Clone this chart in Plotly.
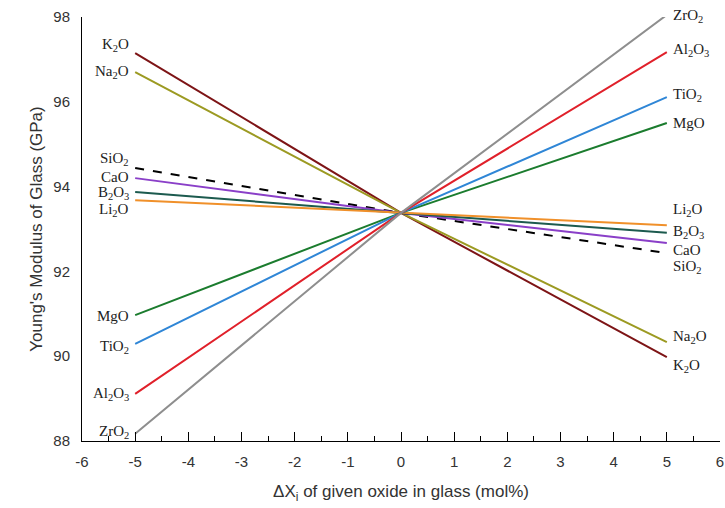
import plotly.graph_objects as go

# ---- data ----
x_points = [-5, 0, 5]
oxides = ["K2O", "Na2O", "SiO2", "CaO", "B2O3", "Li2O", "MgO", "TiO2", "Al2O3", "ZrO2"]
labels_html = {
    "K2O": "K<sub>2</sub>O", "Na2O": "Na<sub>2</sub>O", "SiO2": "SiO<sub>2</sub>",
    "CaO": "CaO", "B2O3": "B<sub>2</sub>O<sub>3</sub>", "Li2O": "Li<sub>2</sub>O",
    "MgO": "MgO", "TiO2": "TiO<sub>2</sub>", "Al2O3": "Al<sub>2</sub>O<sub>3</sub>",
    "ZrO2": "ZrO<sub>2</sub>",
}
K2O = [97.15, 93.38, 89.98]
Na2O = [96.70, 93.38, 90.33]
SiO2 = [94.44, 93.38, 92.43]
CaO = [94.20, 93.38, 92.67]
B2O3 = [93.87, 93.38, 92.91]
Li2O = [93.68, 93.38, 93.09]
MgO = [90.97, 93.38, 95.50]
TiO2 = [90.29, 93.38, 96.11]
Al2O3 = [89.11, 93.38, 97.17]
ZrO2 = [88.17, 93.38, 98.05]
series = {"K2O": K2O, "Na2O": Na2O, "SiO2": SiO2, "CaO": CaO, "B2O3": B2O3,
          "Li2O": Li2O, "MgO": MgO, "TiO2": TiO2, "Al2O3": Al2O3, "ZrO2": ZrO2}

x_ticks = list(range(-6, 7))
x_tick_text = [str(v) for v in x_ticks]
y_ticks = [88, 90, 92, 94, 96, 98]

# ---- styles ----
colors = {"K2O": "#7d1416", "Na2O": "#9c9a22", "SiO2": "#000000", "CaO": "#8a3fc8",
          "B2O3": "#1c5a4e", "Li2O": "#f0902a", "MgO": "#1b7c2e", "TiO2": "#2f86d6",
          "Al2O3": "#e0202a", "ZrO2": "#8e8e8e"}
dashes = {k: "solid" for k in oxides}
dashes["SiO2"] = "dash"

Y0, Y1 = 88, 98
# label placement (y in data units, converted to paper fractions)
left_label_y = {"K2O": 97.34, "Na2O": 96.70, "SiO2": 94.65, "CaO": 94.22, "B2O3": 93.86,
                "Li2O": 93.45, "MgO": 90.95, "TiO2": 90.22, "Al2O3": 89.11, "ZrO2": 88.21}
right_label_y = {"ZrO2": 98.02, "Al2O3": 97.22, "TiO2": 96.16, "MgO": 95.50, "Li2O": 93.45,
                 "B2O3": 92.93, "CaO": 92.50, "SiO2": 92.10, "Na2O": 90.45, "K2O": 89.77}

fig = go.Figure()
for k in oxides:
    fig.add_trace(go.Scatter(x=x_points, y=series[k], mode="lines", name=k,
                             line=dict(color=colors[k], width=2, dash=dashes[k]),
                             showlegend=False))

serif = dict(family="Liberation Serif", size=15, color="#222222")
for k in oxides:
    fig.add_annotation(x=-5.08, xref="x", y=(left_label_y[k] - Y0) / (Y1 - Y0), yref="paper",
                       text=labels_html[k], showarrow=False,
                       xanchor="right", yanchor="middle", font=serif)
    fig.add_annotation(x=5.07, xref="x", y=(right_label_y[k] - Y0) / (Y1 - Y0), yref="paper",
                       text=labels_html[k], showarrow=False,
                       xanchor="left", yanchor="middle", font=serif)

fig.update_layout(
    width=725, height=508,
    margin=dict(l=82, r=5, t=17, b=67),
    paper_bgcolor="white", plot_bgcolor="white",
    font=dict(family="Liberation Sans", size=15, color="#333333"),
    xaxis=dict(range=[-6, 6], tickvals=x_ticks, ticktext=x_tick_text, ticks="inside",
               ticklen=9, tickwidth=1, automargin=False, ticklabeloverflow="allow",
               ticklabelstandoff=7,
               tickcolor="black", showline=True, linecolor="black", linewidth=1,
               showgrid=False, zeroline=False,
               minor=dict(dtick=0.5, ticks="inside", ticklen=5, tickcolor="black", tickwidth=1),
               tickfont=dict(family="Liberation Sans", size=15, color="#333333"),
               title=dict(text="ΔX<sub>i</sub> of given oxide in glass (mol%)",
                          font=dict(family="Liberation Sans", size=17, color="#333333"),
                          standoff=16)),
    yaxis=dict(range=[Y0, Y1], tickvals=y_ticks, ticks="", showline=True, linecolor="black",
               linewidth=1, showgrid=False, zeroline=False, automargin=False,
               ticklabelstandoff=8,
               tickfont=dict(family="Liberation Sans", size=15, color="#333333"),
               title=dict(text="Young's Modulus of Glass (GPa)",
                          font=dict(family="Liberation Sans", size=17, color="#333333"),
                          standoff=6)),
)

fig.write_html("out.html", config={"displayModeBar": False},
               post_script="document.body.style.margin='0';document.body.style.overflow='hidden';")
